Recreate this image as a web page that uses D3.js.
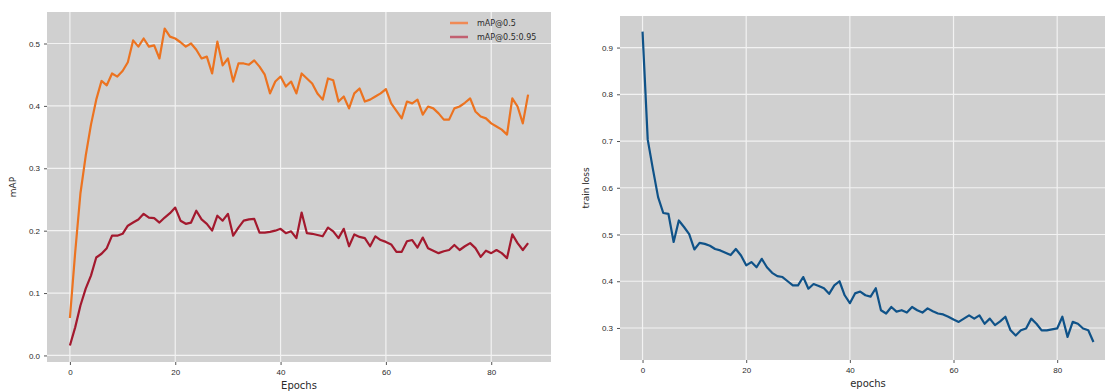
<!DOCTYPE html>
<html>
<head>
<meta charset="utf-8">
<script src="https://cdn.jsdelivr.net/npm/d3@7"></script>
<style>
  body { margin: 0; background: #fff; }
  svg { display: block; font-family: "DejaVu Sans", sans-serif; }
  .tick text { fill: #2a2a2a; font-size: 8px; }
  .tick line { stroke: #555; }
  .domain { display: none; }
</style>
</head>
<body>
<svg id="chart" width="1105" height="392"></svg>
<script>
// epochs 0..87
var epochs = d3.range(0, 88);

var map50 = [0.060, 0.165, 0.260, 0.320, 0.370, 0.410, 0.440, 0.433, 0.452, 0.447,
  0.456, 0.470, 0.505, 0.495, 0.508, 0.495, 0.497, 0.476, 0.524, 0.511,
  0.508, 0.502, 0.495, 0.500, 0.490, 0.476, 0.479, 0.452, 0.503, 0.465,
  0.476, 0.439, 0.468, 0.468, 0.466, 0.473, 0.463, 0.450, 0.420, 0.439,
  0.447, 0.431, 0.439, 0.420, 0.452, 0.444, 0.436, 0.420, 0.410, 0.444,
  0.441, 0.407, 0.415, 0.396, 0.420, 0.428, 0.407, 0.410, 0.415, 0.420,
  0.427, 0.404, 0.392, 0.380, 0.407, 0.404, 0.410, 0.386, 0.399, 0.396,
  0.388, 0.378, 0.378, 0.396, 0.399, 0.405, 0.412, 0.391, 0.383, 0.380,
  0.372, 0.367, 0.362, 0.354, 0.412, 0.399, 0.372, 0.418];

var map5095 = [0.016, 0.045, 0.080, 0.107, 0.128, 0.157, 0.163, 0.172, 0.192, 0.192,
  0.195, 0.208, 0.213, 0.218, 0.227, 0.221, 0.220, 0.213, 0.221, 0.228,
  0.237, 0.216, 0.211, 0.213, 0.232, 0.218, 0.211, 0.200, 0.224, 0.216,
  0.227, 0.192, 0.205, 0.216, 0.218, 0.219, 0.197, 0.197, 0.198, 0.200,
  0.203, 0.196, 0.199, 0.188, 0.229, 0.196, 0.195, 0.193, 0.191, 0.205,
  0.199, 0.188, 0.203, 0.175, 0.194, 0.190, 0.188, 0.175, 0.191, 0.185,
  0.182, 0.178, 0.166, 0.166, 0.183, 0.185, 0.173, 0.189, 0.172, 0.168,
  0.164, 0.167, 0.169, 0.177, 0.169, 0.175, 0.180, 0.172, 0.158, 0.168,
  0.164, 0.169, 0.164, 0.156, 0.194, 0.180, 0.169, 0.180];

var trainLoss = [0.934, 0.703, 0.640, 0.580, 0.546, 0.544, 0.484, 0.530, 0.516, 0.501,
  0.468, 0.482, 0.480, 0.476, 0.469, 0.466, 0.461, 0.456, 0.469, 0.455,
  0.434, 0.441, 0.430, 0.448, 0.430, 0.418, 0.411, 0.409, 0.400, 0.391,
  0.391, 0.409, 0.384, 0.394, 0.390, 0.385, 0.373, 0.391, 0.400, 0.370,
  0.353, 0.374, 0.378, 0.370, 0.367, 0.385, 0.338, 0.331, 0.345, 0.335,
  0.338, 0.333, 0.345, 0.338, 0.333, 0.342, 0.336, 0.331, 0.329, 0.324,
  0.318, 0.313, 0.320, 0.327, 0.320, 0.327, 0.309, 0.320, 0.306, 0.314,
  0.324, 0.295, 0.284, 0.295, 0.299, 0.320, 0.309, 0.295, 0.295, 0.297,
  0.299, 0.324, 0.281, 0.313, 0.309, 0.299, 0.295, 0.270];

var xTicks = [0, 20, 40, 60, 80];
var mapTicks = [0.0, 0.1, 0.2, 0.3, 0.4, 0.5];
var lossTicks = [0.3, 0.4, 0.5, 0.6, 0.7, 0.8, 0.9];
var legendLabels = ['mAP@0.5', 'mAP@0.5:0.95'];
var colors = ['#ec7320', '#a3192e'];
var lossColor = '#0f5288';

var svg = d3.select('#chart');

function panel(box, yDomain, yTicks, xLabel, yLabel) {
  var x = d3.scaleLinear().domain([-4.35, 91.35]).range([box.left, box.right]);
  var y = d3.scaleLinear().domain(yDomain).range([box.bottom, box.top]);

  var g = svg.append('g');
  g.append('rect')
    .attr('x', box.left).attr('y', box.top)
    .attr('width', box.right - box.left).attr('height', box.bottom - box.top)
    .attr('fill', '#d0d0d0');

  // grid
  g.selectAll('.vg').data(xTicks).enter().append('line')
    .attr('x1', d => x(d)).attr('x2', d => x(d))
    .attr('y1', box.top).attr('y2', box.bottom)
    .attr('stroke', '#f2f2f2').attr('stroke-width', 1.2);
  g.selectAll('.hg').data(yTicks).enter().append('line')
    .attr('x1', box.left).attr('x2', box.right)
    .attr('y1', d => y(d)).attr('y2', d => y(d))
    .attr('stroke', '#f2f2f2').attr('stroke-width', 1.2);

  g.append('g')
    .attr('transform', 'translate(0,' + box.bottom + ')')
    .call(d3.axisBottom(x).tickValues(xTicks).tickSize(3).tickPadding(4).tickFormat(d3.format('d')));
  g.append('g')
    .attr('transform', 'translate(' + box.left + ',0)')
    .call(d3.axisLeft(y).tickValues(yTicks).tickSize(3).tickPadding(4).tickFormat(d3.format('.1f')));

  g.append('text')
    .attr('x', (box.left + box.right) / 2).attr('y', box.bottom + 27)
    .attr('text-anchor', 'middle').attr('font-size', 10).attr('fill', '#2a2a2a')
    .text(xLabel);
  g.append('text')
    .attr('transform', 'translate(' + (box.left - 31) + ',' + ((box.top + box.bottom) / 2) + ') rotate(-90)')
    .attr('text-anchor', 'middle').attr('font-size', 9).attr('fill', '#2a2a2a')
    .text(yLabel);

  return { x: x, y: y, g: g };
}

function drawLine(p, values, color) {
  var line = d3.line().x((d, i) => p.x(epochs[i])).y(d => p.y(d));
  p.g.append('path')
    .datum(values)
    .attr('d', line)
    .attr('fill', 'none')
    .attr('stroke', color)
    .attr('stroke-width', 2.2)
    .attr('stroke-linejoin', 'round');
}

// left: mAP
var left = panel({ left: 47, right: 551, top: 12, bottom: 362 }, [-0.0105, 0.5505], mapTicks, 'Epochs', 'mAP');
drawLine(left, map50, colors[0]);
drawLine(left, map5095, colors[1]);

var legend = left.g.append('g');
legendLabels.forEach(function (lab, i) {
  var yy = 23 + i * 14;
  legend.append('line')
    .attr('x1', 450).attr('x2', 468).attr('y1', yy).attr('y2', yy)
    .attr('stroke', i === 0 ? '#f08a55' : '#c26070').attr('stroke-width', 2.5);
  legend.append('text')
    .attr('x', 477).attr('y', yy + 3)
    .attr('font-size', 8).attr('fill', '#2a2a2a')
    .text(lab);
});

// right: train loss
var right = panel({ left: 620, right: 1116, top: 16, bottom: 360 }, [0.2315, 0.9675], lossTicks, 'epochs', 'train loss');
drawLine(right, trainLoss, lossColor);
</script>
</body>
</html>
